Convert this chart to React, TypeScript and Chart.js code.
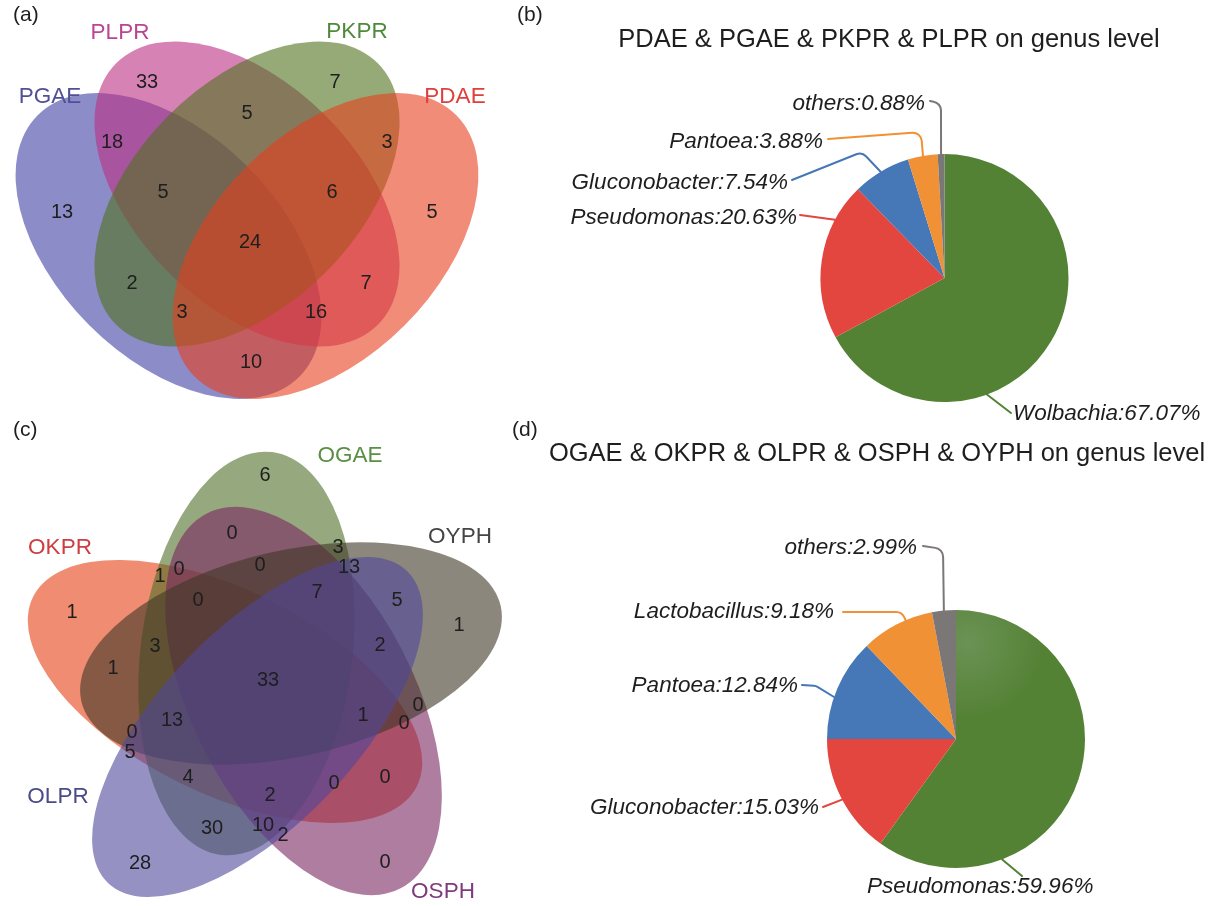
import React, { useEffect, useRef } from "react";
import { Chart, registerables } from "chart.js";
Chart.register(...registerables);

const FONT = "'Liberation Sans', Arial, Helvetica, sans-serif";
const W = 1219;
const H = 906;

// ---------------- DATA ----------------
// (a) 4-set Venn: region counts
const setsA = ["PGAE", "PLPR", "PKPR", "PDAE"];
const countsA = [33, 7, 5, 18, 3, 5, 6, 13, 5, 24, 2, 7, 3, 16, 10];

// (c) 5-set Venn: region counts
const setsC = ["OKPR", "OGAE", "OSPH", "OYPH", "OLPR"];
const countsC = [6, 0, 3, 1, 0, 0, 13, 7, 0, 5, 1, 1, 2, 3, 1, 33, 13, 1, 0, 0, 0, 5, 4, 0, 0, 2, 30, 10, 2, 28, 0];

// (b) pie
const titleB = "PDAE & PGAE & PKPR & PLPR on genus level";
const genusB = ["Wolbachia", "Pseudomonas", "Gluconobacter", "Pantoea", "others"];
const shareB = [67.07, 20.63, 7.54, 3.88, 0.88];

// (d) pie
const titleD = "OGAE & OKPR & OLPR & OSPH & OYPH on genus level";
const genusD = ["Pseudomonas", "Gluconobacter", "Pantoea", "Lactobacillus", "others"];
const shareD = [59.96, 15.03, 12.84, 9.18, 2.99];

// ---------------- LAYOUT / STYLE ----------------
const GREEN = "#548235";
const RED = "#e2463f";
const BLUE = "#4677b6";
const ORANGE = "#f09135";
const GRAY = "#7b7777";
const pieColorsB = [GREEN, RED, BLUE, ORANGE, GRAY];
const pieColorsD = [GREEN, RED, BLUE, ORANGE, GRAY];

// region label positions (page px) for the Venn counts
const posA: [number, number][] = [
  [147, 82], [335, 82], [247, 113], [112, 142], [387, 142], [163, 192], [332, 192],
  [62, 212], [432, 212], [250, 242], [132, 283], [366, 283], [182, 312], [316, 312], [251, 362],
];
const posC: [number, number][] = [
  [265, 475], [232, 533], [338, 547], [160, 576], [179, 569], [260, 565], [349, 567],
  [317, 592], [198, 600], [397, 600], [72, 612], [459, 625], [380, 645], [155, 646],
  [113, 668], [268, 680], [172, 720], [363, 715], [418, 705], [404, 723], [132, 732],
  [130, 752], [188, 777], [334, 783], [385, 777], [270, 795], [212, 828], [263, 825],
  [283, 835], [140, 863], [385, 862],
];

type Ell = { cx: number; cy: number; rx: number; ry: number; rot: number; fill: string; label: [number, number]; color: string };
const ellA: Ell[] = [
  { cx: 168.5, cy: 246, rx: 185, ry: 112, rot: 45, fill: "rgba(63,63,163,0.6)", label: [50, 97], color: "#505098" },
  { cx: 247, cy: 194, rx: 185, ry: 111, rot: 45, fill: "rgba(188,47,130,0.6)", label: [120, 33], color: "#bb4593" },
  { cx: 247, cy: 194, rx: 185, ry: 111, rot: -45, fill: "rgba(80,113,30,0.6)", label: [357, 32], color: "#4f8a3c" },
  { cx: 325.5, cy: 246, rx: 185, ry: 112, rot: -45, fill: "rgba(230,63,30,0.6)", label: [455, 97], color: "#e0403c" },
];
const ellC: Ell[] = [
  { cx: 225, cy: 691.5, rx: 214, ry: 102, rot: 26.2, fill: "rgba(230,63,20,0.6)", label: [60, 548], color: "#cf3d40" },
  { cx: 246.5, cy: 653.5, rx: 203, ry: 106, rot: -82.75, fill: "rgba(80,110,38,0.6)", label: [350, 456], color: "#5a8f45" },
  { cx: 303.5, cy: 701, rx: 211, ry: 111, rot: 62.6, fill: "rgba(122,38,97,0.6)", label: [443, 892], color: "#7d3b7d" },
  { cx: 291, cy: 653.5, rx: 215, ry: 103, rot: -12.8, fill: "rgba(63,55,38,0.6)", label: [460, 537], color: "#454545" },
  { cx: 257.5, cy: 727, rx: 216, ry: 98, rot: -46.2, fill: "rgba(80,72,155,0.6)", label: [58, 797], color: "#4b4b88" },
];

type PageText = { t: string; x: number; y: number; size: number; align: CanvasTextAlign };
const pageTexts: PageText[] = [
  { t: "(a)", x: 13, y: 15, size: 21, align: "left" },
  { t: "(b)", x: 517, y: 15, size: 21, align: "left" },
  { t: "(c)", x: 13, y: 430, size: 21, align: "left" },
  { t: "(d)", x: 512, y: 430, size: 21, align: "left" },
  { t: titleB, x: 889, y: 40, size: 25.5, align: "center" },
  { t: titleD, x: 877, y: 454, size: 25.5, align: "center" },
];

// leader lines: anchor angle (deg clockwise from 12 o'clock), bend points, end, text side
type Leader = { angle: number; pts: [number, number][]; align: "left" | "right" };
const leadersB: Leader[] = [
  { angle: 160, pts: [[1011, 413]], align: "left" },
  { angle: 298, pts: [[800, 215]], align: "right" },
  { angle: 329, pts: [[862, 152], [792, 180]], align: "right" },
  { angle: 350, pts: [[921, 132], [828, 139]], align: "right" },
  { angle: 358.4, pts: [[941, 103], [930, 101]], align: "right" },
];
const leadersD: Leader[] = [
  { angle: 159, pts: [[1022, 876]], align: "left" },
  { angle: 242, pts: [[823, 807]], align: "right" },
  { angle: 289, pts: [[816, 686], [802, 685]], align: "right" },
  { angle: 337, pts: [[902, 612], [843, 612]], align: "right" },
  { angle: 354.6, pts: [[943, 549], [923, 546]], align: "right" },
];
const labelTextPos = {
  B: [[1013, 414], [797, 218], [788, 183], [823, 142], [925, 104]] as [number, number][],
  D: [[867, 887], [819, 808], [798, 686], [834, 612], [917, 548]] as [number, number][],
};
// faint highlight on the big slice of (d)
const glowD = { x: 968, y: 642, r: 75 };

// ---------------- PLUGINS ----------------
const vennPlugin = {
  id: "vennShapes",
  beforeDatasetsDraw(chart: any) {
    const { ctx } = chart;
    const xs = chart.scales.x;
    const ys = chart.scales.y;
    ctx.save();
    [ellA, ellC].forEach((list) => {
      list.forEach((e) => {
        const px = xs.getPixelForValue(e.cx);
        const py = ys.getPixelForValue(e.cy);
        const rx = Math.abs(xs.getPixelForValue(e.cx + e.rx) - px);
        const ry = Math.abs(ys.getPixelForValue(e.cy + e.ry) - py);
        ctx.beginPath();
        ctx.ellipse(px, py, rx, ry, (e.rot * Math.PI) / 180, 0, Math.PI * 2);
        ctx.fillStyle = e.fill;
        ctx.fill();
      });
    });
    ctx.restore();
  },
  afterDatasetsDraw(chart: any) {
    const { ctx } = chart;
    const xs = chart.scales.x;
    const ys = chart.scales.y;
    ctx.save();
    ctx.textAlign = "center";
    ctx.textBaseline = "middle";
    ctx.fillStyle = "#1e1e1e";
    ctx.font = `20px ${FONT}`;
    [countsA, countsC].forEach((counts, d) => {
      const meta = chart.getDatasetMeta(d);
      meta.data.forEach((pt: any, i: number) => {
        ctx.fillText(String(counts[i]), pt.x, pt.y);
      });
    });
    ctx.font = `22.5px ${FONT}`;
    [[ellA, setsA], [ellC, setsC]].forEach(([list, names]: any) => {
      list.forEach((e: Ell, i: number) => {
        ctx.fillStyle = e.color;
        ctx.fillText(names[i], xs.getPixelForValue(e.label[0]), ys.getPixelForValue(e.label[1]));
      });
    });
    ctx.fillStyle = "#1e1e1e";
    pageTexts.forEach((p) => {
      ctx.font = `${p.size}px ${FONT}`;
      ctx.textAlign = p.align;
      ctx.fillText(p.t, xs.getPixelForValue(p.x), ys.getPixelForValue(p.y));
    });
    ctx.restore();
  },
};

function makeLeaderPlugin(names: string[], values: number[], colors: string[], leaders: Leader[], textPos: [number, number][]) {
  return {
    id: "pieLeaders",
    afterDatasetsDraw(chart: any) {
      const { ctx } = chart;
      const meta = chart.getDatasetMeta(0);
      const arc = meta.data[0];
      const cx = arc.x;
      const cy = arc.y;
      const R = arc.outerRadius;
      ctx.save();
      leaders.forEach((ld, i) => {
        const a = (ld.angle * Math.PI) / 180;
        const ax = cx + R * Math.sin(a);
        const ay = cy - R * Math.cos(a);
        ctx.beginPath();
        ctx.moveTo(ax, ay);
        const pts = ld.pts;
        for (let k = 0; k < pts.length - 1; k++) {
          ctx.arcTo(pts[k][0], pts[k][1], pts[k + 1][0], pts[k + 1][1], 9);
        }
        ctx.lineTo(pts[pts.length - 1][0], pts[pts.length - 1][1]);
        ctx.strokeStyle = colors[i];
        ctx.lineWidth = 2;
        ctx.lineJoin = "round";
        ctx.lineCap = "round";
        ctx.stroke();
        ctx.font = `italic 22.5px ${FONT}`;
        ctx.fillStyle = "#1e1e1e";
        ctx.textAlign = ld.align;
        ctx.textBaseline = "middle";
        ctx.fillText(`${names[i]}:${values[i].toFixed(2)}%`, textPos[i][0], textPos[i][1]);
      });
      ctx.restore();
    },
  };
}

// ---------------- CONFIGS ----------------
function vennConfig(): any {
  return {
    type: "scatter",
    data: {
      datasets: [
        { data: countsA.map((_, i) => ({ x: posA[i][0], y: posA[i][1] })), pointRadius: 0, pointHoverRadius: 0 },
        { data: countsC.map((_, i) => ({ x: posC[i][0], y: posC[i][1] })), pointRadius: 0, pointHoverRadius: 0 },
      ],
    },
    options: {
      responsive: false,
      animation: false,
      events: [],
      layout: { padding: 0 },
      scales: {
        x: { type: "linear", min: 0, max: W, display: false },
        y: { type: "linear", min: 0, max: H, reverse: true, display: false },
      },
      plugins: { legend: { display: false }, tooltip: { enabled: false } },
    },
    plugins: [vennPlugin],
  };
}

function pieConfig(names: string[], values: number[], colors: string[], leaders: Leader[], textPos: [number, number][], cx: number, cy: number, r: number, glow?: { x: number; y: number; r: number }): any {
  const bg = glow
    ? (c: any) => {
        if (c.dataIndex !== 0) return colors[c.dataIndex];
        const g = c.chart.ctx.createRadialGradient(glow.x, glow.y, 0, glow.x, glow.y, glow.r);
        g.addColorStop(0, "#6b9255");
        g.addColorStop(1, colors[0]);
        return g;
      }
    : colors;
  return {
    type: "pie",
    data: {
      labels: names,
      datasets: [
        {
          data: values,
          backgroundColor: bg,
          borderWidth: 0,
          hoverBorderWidth: 0,
          hoverOffset: 0,
          offset: 0,
        },
      ],
    },
    options: {
      responsive: false,
      animation: false,
      events: [],
      radius: r,
      layout: { padding: { left: cx - r, right: W - cx - r, top: cy - r, bottom: H - cy - r } },
      plugins: { legend: { display: false }, tooltip: { enabled: false } },
    },
    plugins: [makeLeaderPlugin(names, values, colors, leaders, textPos)],
  };
}

function ChartCanvas({ make }: { make: () => any }) {
  const ref = useRef<HTMLCanvasElement>(null);
  useEffect(() => {
    const chart = new Chart(ref.current as HTMLCanvasElement, make());
    return () => chart.destroy();
  }, []);
  return (
    <canvas
      ref={ref}
      width={W}
      height={H}
      style={{ position: "absolute", left: 0, top: 0, width: W, height: H }}
    />
  );
}

export default function App() {
  return (
    <div style={{ position: "absolute", left: 0, top: 0, width: W, height: H, background: "#ffffff", overflow: "hidden" }}>
      <ChartCanvas make={vennConfig} />
      <ChartCanvas make={() => pieConfig(genusB, shareB, pieColorsB, leadersB, labelTextPos.B, 944.5, 278, 124)} />
      <ChartCanvas make={() => pieConfig(genusD, shareD, pieColorsD, leadersD, labelTextPos.D, 956, 739, 129, glowD)} />
    </div>
  );
}
